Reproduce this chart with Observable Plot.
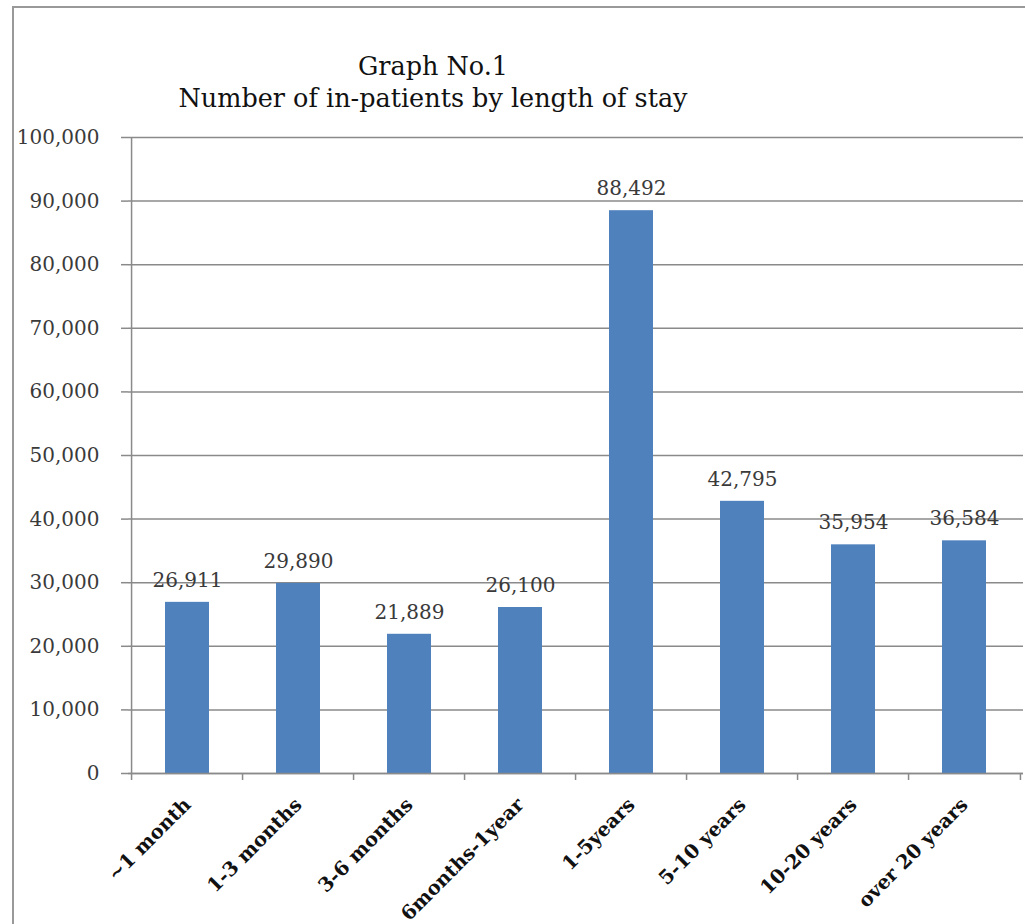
<!DOCTYPE html>
<html>
<head>
<meta charset="utf-8">
<script src="https://cdn.jsdelivr.net/npm/d3@7"></script>
<script src="https://cdn.jsdelivr.net/npm/@observablehq/plot@0.6"></script>
<style>
  html, body { margin: 0; padding: 0; background: #fff; }
  #wrap { position: relative; width: 1025px; height: 924px; overflow: hidden; background: #fff; }
  #border { position: absolute; left: 12px; top: 6px; width: 1100px; height: 1000px; border: 2px solid #999; box-sizing: border-box; }
  #title { position: absolute; left: 0; top: 50px; width: 866px; text-align: center; font-family: "DejaVu Serif", serif; font-size: 25.5px; line-height: 32px; color: #111; }
  #chart { position: absolute; left: 0; top: 120px; }
  #chart svg { background: transparent !important; }
</style>
</head>
<body>
<div id="wrap">
  <div id="border"></div>
  <div id="title">Graph No.1<br>Number of in-patients by length of stay</div>
  <div id="chart"></div>
</div>
<script>
const categories = ["~1 month", "1-3 months", "3-6 months", "6months-1year", "1-5years", "5-10 years", "10-20 years", "over 20 years"];
const values = [26911, 29890, 21889, 26100, 88492, 42795, 35954, 36584];
const yTicks = [0, 10000, 20000, 30000, 40000, 50000, 60000, 70000, 80000, 90000, 100000];

const data = categories.map((c, i) => ({category: c, value: values[i]}));

const W = 1025, H = 804;
const mL = 128, mR = 2, mT = 17, mB = 151;
const step = (W - mL - mR) / categories.length;
const axisColor = "#8a8a8a";
const font = "DejaVu Serif, serif";
const fmt = d3.format(",");

const chart = Plot.plot({
  width: W,
  height: H,
  marginLeft: mL,
  marginRight: mR,
  marginTop: mT,
  marginBottom: mB,
  style: {fontFamily: font, background: "transparent", overflow: "visible"},
  x: {domain: categories, paddingInner: 0.6, paddingOuter: 0.3, label: null},
  y: {domain: [0, 100000], label: null},
  marks: [
    Plot.gridY(yTicks, {stroke: axisColor, strokeOpacity: 1, strokeWidth: 1.5}),
    Plot.axisY({ticks: yTicks, tickFormat: fmt, tickSize: 7, tickPadding: 22, stroke: axisColor, strokeWidth: 1.5, fontSize: 20, fill: "#3a3a3a", label: null}),
    Plot.barY(data, {x: "category", y: "value", fill: "#4f81bd"}),
    // left axis line plus category boundary ticks
    Plot.ruleX([categories[0]], {x: d => d, dx: -step / 2, y1: -1100, y2: 100000, stroke: axisColor, strokeWidth: 1.5}),
    Plot.ruleX(categories.slice(1), {x: d => d, dx: -step / 2, y1: -1100, y2: 0, stroke: axisColor, strokeWidth: 1.5}),
    Plot.ruleX([categories[categories.length - 1]], {x: d => d, dx: step / 2, y1: -1100, y2: 0, stroke: axisColor, strokeWidth: 1.5}),
    Plot.ruleY([0], {stroke: axisColor, strokeWidth: 1.5}),
    Plot.axisX({tickSize: 0, tickRotate: -45, tickPadding: 28, fontSize: 19.5, fill: "#111", fontWeight: "bold", label: null}),
    Plot.text(data, {x: "category", y: "value", text: d => fmt(d.value), dy: -22, lineAnchor: "middle", fontSize: 20, fill: "#3a3a3a"})
  ]
});
document.getElementById("chart").appendChild(chart);
</script>
</body>
</html>
